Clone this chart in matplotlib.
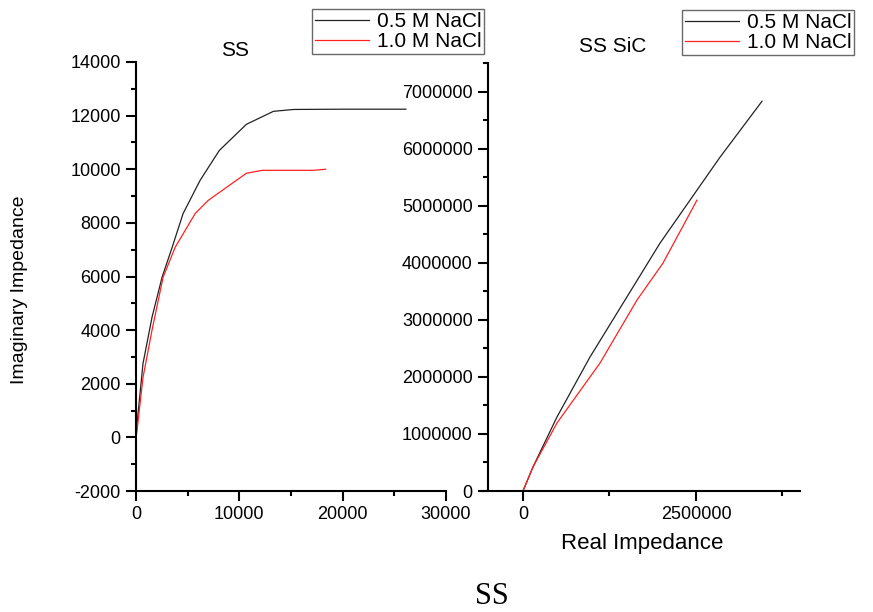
import matplotlib
matplotlib.use('Agg')
import matplotlib.pyplot as plt
from matplotlib.ticker import MultipleLocator, ScalarFormatter

plt.rcParams['font.family'] = ['Liberation Sans', 'DejaVu Sans']
plt.rcParams['axes.unicode_minus'] = False

# SS panel
ss_x_05 = [0, 100, 680, 1550, 2520, 3500, 4560, 6210, 8060, 10680, 13300, 15250, 20000, 26120]
ss_y_05 = [0, 520, 2760, 4480, 5970, 7090, 8350, 9590, 10700, 11675, 12160, 12230, 12240, 12240]
ss_x_10 = [0, 100, 680, 1550, 2620, 3790, 5730, 6990, 10680, 12230, 17200, 18350]
ss_y_10 = [0, 260, 2240, 4000, 5970, 7090, 8350, 8840, 9850, 9960, 9960, 10000]

# SS SiC panel
sic_x_05 = [0, 144500, 491000, 968000, 1474000, 1980000, 2514000, 2847000, 3454000]
sic_y_05 = [0, 420000, 1296000, 2347000, 3345000, 4343000, 5271000, 5849000, 6830000]
sic_x_10 = [0, 144500, 491000, 1113000, 1647000, 2023000, 2514000]
sic_y_10 = [0, 420000, 1191000, 2242000, 3345000, 3993000, 5096000]

labels = ['0.5 M NaCl', '1.0 M NaCl']

fig = plt.figure(figsize=(8.73, 6.12), dpi=100)
W, H = 873, 612
ax = fig.add_axes([136/W, 1-491/H, 310/W, 429/H])
ax2 = fig.add_axes([482/W, 1-491/H, 318/W, 428/H])


def style(a):
    a.spines['top'].set_visible(False)
    a.spines['right'].set_visible(False)
    a.spines['left'].set_linewidth(1.5)
    a.spines['bottom'].set_linewidth(1.5)
    a.tick_params(which='major', direction='out', length=7, width=1.5, labelsize=13, pad=4)
    a.tick_params(which='minor', direction='out', length=3.5, width=1.5)
    fmt = ScalarFormatter(useOffset=False)
    fmt.set_scientific(False)
    a.xaxis.set_major_formatter(fmt)
    fmt = ScalarFormatter(useOffset=False)
    fmt.set_scientific(False)
    a.yaxis.set_major_formatter(fmt)


l1, = ax.plot(ss_x_05, ss_y_05, color='#222222', lw=0.9)
l2, = ax.plot(ss_x_10, ss_y_10, color='#ff2020', lw=0.9)
ax.set_xlim(0, 30000)
ax.set_ylim(-2000, 14000)
ax.xaxis.set_major_locator(MultipleLocator(10000))
ax.xaxis.set_minor_locator(MultipleLocator(5000))
ax.yaxis.set_major_locator(MultipleLocator(2000))
ax.yaxis.set_minor_locator(MultipleLocator(1000))
style(ax)
ax.set_title('SS', x=0.32, pad=4, fontsize=15)
ax.set_ylabel('Imaginary Impedance', fontsize=14)
ax.yaxis.set_label_coords(-0.35, 0.47)

ax2.plot(sic_x_05, sic_y_05, color='#222222', lw=0.9)
ax2.plot(sic_x_10, sic_y_10, color='#ff2020', lw=0.9)
ax2.set_xlim(-592000, 4003000)
ax2.set_ylim(0, 7500000)
ax2.spines['left'].set_position(('axes', 0.019))
ax2.xaxis.set_major_locator(MultipleLocator(2500000))
ax2.xaxis.set_minor_locator(MultipleLocator(1250000))
ax2.yaxis.set_major_locator(MultipleLocator(1000000))
ax2.yaxis.set_minor_locator(MultipleLocator(500000))
style(ax2)
ax2.set_title('SS SiC', x=0.41, pad=8, fontsize=15)

leg_kw = dict(loc='upper left', fontsize=15, frameon=True, fancybox=False,
              handlelength=2.6, handletextpad=0.35, borderpad=0.15,
              labelspacing=0.05, borderaxespad=0)
lg = fig.legend([l1, l2], labels, bbox_to_anchor=(312/W, 1-9/H), **leg_kw)
lg.get_frame().set_edgecolor('#444444')
lg.get_frame().set_linewidth(1.0)
lg2 = fig.legend([l1, l2], labels, bbox_to_anchor=(682/W, 1-10/H), **leg_kw)
lg2.get_frame().set_edgecolor('#444444')
lg2.get_frame().set_linewidth(1.0)

fig.text(642/W, 1-543/H, 'Real Impedance', ha='center', va='center', fontsize=16)
fig.text(492/W, 1-596/H, 'SS', ha='center', va='center', fontsize=22,
         family=['Liberation Serif', 'DejaVu Serif'])

fig.savefig('out.png', dpi=100)
